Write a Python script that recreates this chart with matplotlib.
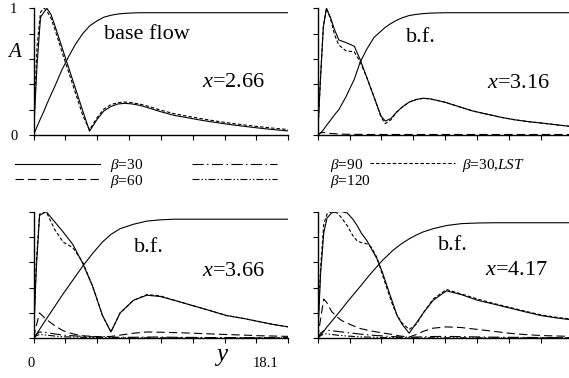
import matplotlib
matplotlib.use("Agg")
import matplotlib.pyplot as plt
from matplotlib.lines import Line2D

plt.rcParams['font.family'] = ['Liberation Serif', 'DejaVu Serif']
plt.rcParams['mathtext.fontset'] = 'custom'
plt.rcParams['mathtext.rm'] = 'Liberation Serif'
plt.rcParams['mathtext.it'] = 'Liberation Serif:italic'
plt.rcParams['lines.scale_dashes'] = False

# ---- data (A vs y) ----
# panel 1, x=2.66
y1 = [0, 0.25, 0.5, 0.75, 0.95, 1.25, 1.5, 2.0, 2.5, 3.0, 3.5, 3.98, 4.5, 5.0, 5.5, 6.0,
      6.5, 7.0, 7.5, 8.0, 9.0, 10.0, 11.0, 12.0, 13.0, 14.0, 15.0, 16.0, 17.0, 18.1]
base1 = [0, 0.065, 0.13, 0.19, 0.245, 0.32, 0.38, 0.51, 0.62, 0.72, 0.80, 0.86, 0.90, 0.93,
         0.945, 0.955, 0.96, 0.963, 0.965, 0.965, 0.965, 0.965, 0.965, 0.965, 0.965, 0.965,
         0.965, 0.965, 0.965, 0.965]
b30_1 = [0, 0.55, 0.93, 0.97, 1.0, 0.95, 0.87, 0.70, 0.53, 0.36, 0.19, 0.03, 0.12, 0.19,
         0.225, 0.245, 0.25, 0.245, 0.235, 0.22, 0.185, 0.155, 0.135, 0.115, 0.098, 0.082,
         0.068, 0.055, 0.043, 0.032]
lst_1 = [0, 0.70, 0.97, 1.0, 0.98, 0.92, 0.84, 0.665, 0.495, 0.325, 0.155, 0.04, 0.135,
         0.205, 0.24, 0.255, 0.26, 0.255, 0.245, 0.232, 0.197, 0.168, 0.147, 0.127, 0.109,
         0.093, 0.079, 0.066, 0.054, 0.043]

# panel 2, x=3.16
y2 = [0, 0.2, 0.4, 0.62, 0.9, 1.2, 1.5, 2.0, 2.6, 3.0, 3.5, 4.0, 4.5, 4.8, 5.2, 5.6, 6.0,
      6.5, 7.0, 7.5, 8.0, 9.0, 10.0, 11.0, 12.0, 13.0, 14.0, 15.0, 16.0, 17.0, 18.1]
base2 = [0, 0.015, 0.04, 0.075, 0.115, 0.16, 0.20, 0.30, 0.44, 0.57, 0.68, 0.77, 0.82, 0.85,
         0.88, 0.905, 0.925, 0.943, 0.952, 0.958, 0.962, 0.965, 0.965, 0.965, 0.965, 0.965,
         0.965, 0.965, 0.965, 0.965, 0.965]
b30_2 = [0, 0.45, 0.85, 1.0, 0.93, 0.83, 0.75, 0.73, 0.70, 0.60, 0.45, 0.30, 0.15, 0.11,
         0.13, 0.18, 0.22, 0.26, 0.28, 0.29, 0.285, 0.26, 0.225, 0.19, 0.165, 0.14, 0.12,
         0.105, 0.093, 0.08, 0.066]
lst_2 = [0, 0.45, 0.86, 1.0, 0.92, 0.79, 0.71, 0.665, 0.655, 0.58, 0.45, 0.30, 0.14, 0.09,
         0.12, 0.18, 0.22, 0.26, 0.28, 0.29, 0.285, 0.26, 0.225, 0.19, 0.165, 0.14, 0.12,
         0.105, 0.093, 0.08, 0.066]
b60_2 = [0, 0.018, 0.02, 0.016, 0.012, 0.01, 0.008, 0.006, 0.005, 0.005, 0.004, 0.004, 0.004,
         0.004, 0.004, 0.004, 0.004, 0.004, 0.004, 0.004, 0.004, 0.004, 0.004, 0.004, 0.004,
         0.004, 0.004, 0.004, 0.004, 0.004, 0.004]

# panel 3, x=3.66
y3 = [0, 0.2, 0.43, 0.9, 1.5, 2.1, 2.8, 3.5, 4.2, 4.9, 5.5, 6.15, 7.1, 8.05, 9.0, 10.0,
      11.4, 12.5, 13.7, 15.0, 16.1, 17.0, 18.1]
base3 = [0, 0.03, 0.07, 0.15, 0.25, 0.35, 0.46, 0.57, 0.67, 0.76, 0.82, 0.865, 0.90, 0.925,
         0.935, 0.94, 0.94, 0.94, 0.94, 0.94, 0.94, 0.94, 0.94]
b30_3 = [0, 0.55, 0.97, 1.0, 0.92, 0.84, 0.74, 0.59, 0.41, 0.18, 0.05, 0.20, 0.30, 0.34,
         0.33, 0.30, 0.255, 0.22, 0.18, 0.155, 0.13, 0.11, 0.09]
lst_3 = [0, 0.60, 0.98, 1.0, 0.86, 0.76, 0.715, 0.60, 0.41, 0.18, 0.05, 0.20, 0.30, 0.345,
         0.335, 0.30, 0.255, 0.22, 0.18, 0.155, 0.13, 0.11, 0.09]
b60_3 = [0, 0.10, 0.20, 0.15, 0.10, 0.06, 0.035, 0.02, 0.015, 0.012, 0.015, 0.025, 0.04,
         0.05, 0.048, 0.045, 0.04, 0.035, 0.03, 0.025, 0.02, 0.018, 0.015]
b90_3 = [0, 0.03, 0.05, 0.045, 0.035, 0.025, 0.02, 0.015, 0.012, 0.015, 0.01, 0.008, 0.008,
         0.01, 0.01, 0.008, 0.007, 0.006, 0.006, 0.005, 0.005, 0.005, 0.005]
b120_3 = [0, 0.02, 0.03, 0.025, 0.018, 0.012, 0.01, 0.008, 0.006, 0.005, 0.005, 0.004, 0.004,
          0.004, 0.004, 0.003, 0.003, 0.003, 0.003, 0.003, 0.003, 0.003, 0.003]

# panel 4, x=4.17
y4 = [0, 0.2, 0.43, 0.66, 1.0, 1.37, 1.7, 2.09, 2.5, 2.8, 3.1, 3.5, 3.8, 4.2, 4.6, 4.93,
      5.3, 5.64, 6.0, 6.5, 7.0, 7.5, 8.2, 9.15, 10.2, 11.36, 12.5, 13.6, 14.7, 15.85, 17.0, 18.1]
base4 = [0, 0.025, 0.055, 0.09, 0.135, 0.185, 0.23, 0.285, 0.34, 0.38, 0.42, 0.475, 0.515,
         0.565, 0.615, 0.65, 0.69, 0.72, 0.75, 0.785, 0.815, 0.84, 0.865, 0.89, 0.905, 0.91,
         0.912, 0.912, 0.912, 0.912, 0.912, 0.912]
b30_4 = [0, 0.50, 0.83, 0.95, 0.99, 1.0, 1.0, 0.99, 0.94, 0.89, 0.83, 0.77, 0.71, 0.63,
         0.52, 0.41, 0.29, 0.18, 0.11, 0.04, 0.12, 0.20, 0.30, 0.375, 0.345, 0.30, 0.27,
         0.24, 0.21, 0.18, 0.16, 0.145]
lst_4 = [0, 0.55, 0.90, 0.98, 1.0, 0.99, 0.95, 0.89, 0.81, 0.77, 0.755, 0.745, 0.72, 0.64,
         0.50, 0.39, 0.27, 0.18, 0.12, 0.07, 0.11, 0.20, 0.31, 0.385, 0.35, 0.31, 0.275,
         0.245, 0.215, 0.185, 0.165, 0.15]
b60_4 = [0, 0.15, 0.31, 0.28, 0.21, 0.17, 0.14, 0.12, 0.10, 0.085, 0.075, 0.065, 0.058, 0.05,
         0.043, 0.037, 0.03, 0.022, 0.016, 0.01, 0.03, 0.055, 0.08, 0.09, 0.085, 0.07, 0.055,
         0.04, 0.03, 0.022, 0.018, 0.015]
b90_4 = [0, 0.04, 0.06, 0.065, 0.06, 0.055, 0.05, 0.045, 0.04, 0.036, 0.032, 0.028, 0.025,
         0.022, 0.019, 0.016, 0.014, 0.012, 0.01, 0.008, 0.01, 0.012, 0.014, 0.015, 0.013,
         0.011, 0.009, 0.008, 0.007, 0.006, 0.005, 0.005]
b120_4 = [0, 0.02, 0.035, 0.035, 0.03, 0.025, 0.022, 0.018, 0.015, 0.013, 0.011, 0.01, 0.009,
          0.008, 0.007, 0.006, 0.006, 0.005, 0.005, 0.004, 0.004, 0.004, 0.004, 0.004, 0.004,
          0.004, 0.004, 0.004, 0.004, 0.004, 0.004, 0.004]

stations = ['2.66', '3.16', '3.66', '4.17']
ymax = 18.1

# line styles
LW = 0.8
st = {
    'b30': dict(ls='-'),
    'b60': dict(dashes=(6, 3)),
    'b90': dict(dashes=(8, 2.5, 1, 2.5)),
    'b120': dict(dashes=(5, 1.5, 1, 1.5, 1, 1.5)),
    'lst': dict(dashes=(2.5, 1.5)),
}

W, H = 569, 378
fig = plt.figure(figsize=(W / 100, H / 100), dpi=100)

def px_axes(left, top, right, bottom):
    return fig.add_axes([left / W, 1 - bottom / H, (right - left) / W, (bottom - top) / H])

ax1 = px_axes(33.5, 8.3, 288.3, 135)
ax2 = px_axes(317.7, 8.3, 572.5, 135)
ax3 = px_axes(33.5, 211.6, 288.3, 338.3)
ax4 = px_axes(317.7, 211.6, 572.5, 338.3)
axes = [ax1, ax2, ax3, ax4]

panels = [
    (y1, base1, [('b30', b30_1), ('lst', lst_1)]),
    (y2, base2, [('b30', b30_2), ('lst', lst_2), ('b60', b60_2)]),
    (y3, base3, [('b30', b30_3), ('lst', lst_3), ('b60', b60_3), ('b90', b90_3), ('b120', b120_3)]),
    (y4, base4, [('b30', b30_4), ('lst', lst_4), ('b60', b60_4), ('b90', b90_4), ('b120', b120_4)]),
]

for ax, (yy, base, curves) in zip(axes, panels):
    ax.plot(yy, base, color='k', lw=LW)
    for key, vals in curves:
        ax.plot(yy, vals, color='k', lw=LW, **st[key])
    ax.set_xlim(0, ymax)
    ax.set_ylim(0, 1)
    for s in ['top', 'right']:
        ax.spines[s].set_visible(False)
    for s in ['left', 'bottom']:
        ax.spines[s].set_linewidth(1.0)
    ax.set_xticks([ymax * i / 8 for i in range(9)])
    ax.set_yticks([0, 0.2, 0.4, 0.6, 0.8, 1.0])
    ax.tick_params(direction='out', length=3.5, width=0.8, labelbottom=False, labelleft=False)
    ax.patch.set_visible(False)

ax1.tick_params(labelleft=True, pad=8, labelsize=10.5)
ax1.set_yticklabels(['0', '', '', '', '', '1'])
ax1.text(-0.073, 0.655, '$A$', transform=ax1.transAxes, fontsize=15, ha='center', va='center')

TFS = 16
labels_bf = ['base flow', 'b.f.', 'b.f.', 'b.f.']
bf_pos = [(0.445, 0.79), (0.405, 0.773), (0.453, 0.713), (0.531, 0.736)]
x_pos = [(0.783, 0.418), (0.79, 0.41), (0.783, 0.531), (0.782, 0.539)]
for ax, lab, bp, xp, s in zip(axes, labels_bf, bf_pos, x_pos, stations):
    ax.text(bp[0], bp[1], lab, transform=ax.transAxes, fontsize=TFS, ha='center', va='center')
    ax.text(xp[0], xp[1], '$x$=' + s, transform=ax.transAxes, fontsize=TFS, ha='center', va='center')

ax3.text(-0.01, -0.2, '0', transform=ax3.transAxes, fontsize=10.5, ha='center', va='center')
ax3.text(0.91, -0.2, '18.1', transform=ax3.transAxes, fontsize=10.5, ha='center', va='center')
ax3.text(0.74, -0.15, '$y$', transform=ax3.transAxes, fontsize=18, ha='center', va='center')

# legend, three column groups
def mk(key):
    return Line2D([], [], color='k', lw=LW, **st[key])

FS = 11
leg_kw = dict(frameon=False, borderpad=0, borderaxespad=0, fontsize=FS, handlelength=5.56,
              labelspacing=-0.1, loc='center left')
fig.legend([mk('b30'), mk('b60')], [r'$\beta$=30', r'$\beta$=60'],
           bbox_to_anchor=(15 / W, 1 - 173.5 / H), handletextpad=0.65, **leg_kw)
fig.legend([mk('b90'), mk('b120')], [r'$\beta$=90', r'$\beta$=120'],
           bbox_to_anchor=(192 / W, 1 - 173.5 / H), handletextpad=3.46, **leg_kw)
fig.legend([mk('lst')], [r'$\beta$=30,$LST$'],
           bbox_to_anchor=(370 / W, 1 - 165 / H), handletextpad=0.46, **leg_kw)

fig.savefig('out.png', dpi=100)
